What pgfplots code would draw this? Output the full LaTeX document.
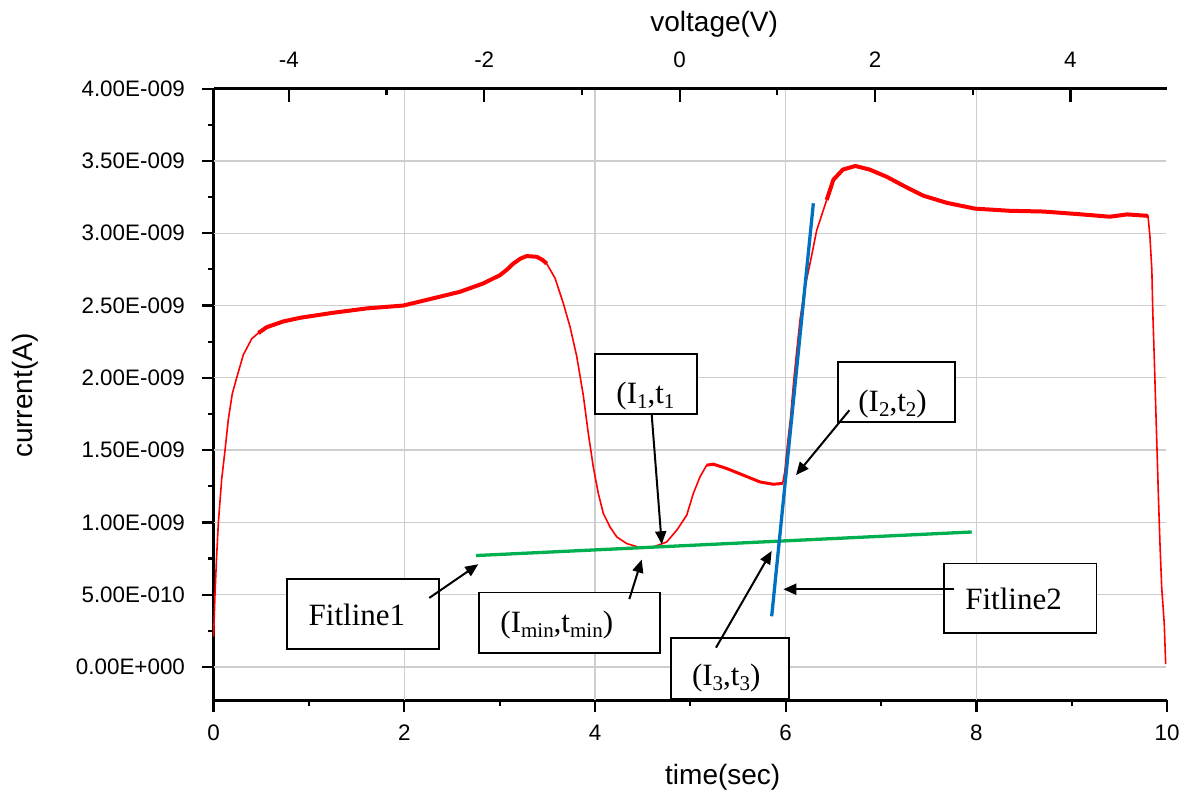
\documentclass[border=0pt]{standalone}
\usepackage{fontspec}
\setmainfont{Liberation Sans}
\newfontfamily\tnr{Liberation Serif}
\usepackage{pgfplots}
\pgfplotsset{compat=1.18}
\usepackage{pgfplotstable}
\usetikzlibrary{arrows.meta}

\definecolor{curvered}{RGB}{255,0,0}
\definecolor{fitgreen}{RGB}{0,176,80}
\definecolor{fitblue}{RGB}{0,112,192}
\definecolor{gridgray}{RGB}{206,206,206}

% current in units of 1e-9 A
\pgfplotstableread{
t I
0     0.21
0.015 0.51
0.03  0.74
0.05  1.00
0.085 1.30
0.12  1.50
0.154 1.71
0.196 1.89
0.242 2.00
0.312 2.16
0.40  2.27
0.47  2.31
0.557 2.35
0.731 2.39
0.906 2.415
1.255 2.45
1.606 2.48
1.99  2.50
2.304 2.55
2.584 2.595
2.829 2.653
3.004 2.71
3.08  2.75
3.143 2.79
3.22  2.825
3.284 2.842
3.389 2.837
3.45  2.815
3.493 2.79
3.58  2.69
3.668 2.515
3.738 2.353
3.808 2.15
3.877 1.88
3.93  1.615
3.982 1.384
4.035 1.20
4.087 1.062
4.157 0.969
4.228 0.90
4.332 0.854
4.472 0.826
4.611 0.83
4.752 0.865
4.857 0.946
4.962 1.05
5.031 1.20
5.101 1.315
5.171 1.396
5.241 1.403
5.381 1.373
5.555 1.327
5.73  1.28
5.87  1.264
5.968 1.27
5.99  1.35
6.02  1.55
6.05  1.72
6.08  1.95
6.11  2.15
6.15  2.40
6.20  2.62
6.255 2.79
6.325 3.02
6.43  3.23
6.50  3.37
6.60  3.44
6.73  3.465
6.88  3.44
7.06  3.39
7.23  3.33
7.44  3.26
7.69  3.21
7.985 3.17
8.35  3.155
8.70  3.15
9.05  3.133
9.40  3.114
9.58  3.13
9.80  3.12
9.82  2.976
9.84  2.745
9.85  2.45
9.865 2.145
9.91  1.154
9.925 0.856
9.943 0.554
9.97  0.30
9.985 0.02
}\currentdata

\newcommand\sub[1]{\raisebox{-0.35ex}{\fontsize{10.5}{10.5}\selectfont #1}}

\tikzset{
  annobox/.style={draw=black, line width=0.85pt, fill=white},
  annoarrow/.style={-{Triangle[length=6.5pt,width=5.5pt]}, line width=1pt, black},
  annotext/.style={font=\tnr\fontsize{15.5}{18}\selectfont, inner sep=0pt, anchor=base west},
  grd/.style={gridgray, line width=0.65pt},
}

\begin{document}
\begin{tikzpicture}
\begin{axis}[
  at={(0,0)}, anchor=south west,
  scale only axis, width=476.75pt, height=305.85pt,
  xmin=0, xmax=10, ymin=-0.23, ymax=4.0,
  axis x line=bottom, axis y line=left,
  x axis line style={-, line width=1.2pt},
  y axis line style={-, line width=1.2pt},
  xtick pos=left, ytick pos=left,
  clip=false,
  xtick={0,2,4,6,8,10}, xticklabels={0,2,4,6,8,10},
  ytick={0,0.5,1,1.5,2,2.5,3,3.5,4},
  yticklabels={0.00E+000,5.00E-010,1.00E-009,1.50E-009,2.00E-009,2.50E-009,3.00E-009,3.50E-009,4.00E-009},
  minor x tick num=1, minor y tick num=1,
  tick align=outside,
  major tick length=5.8pt, minor tick length=3pt,
  tick style={line width=1.1pt, black},
  ticklabel style={font=\fontsize{11.2}{13}\selectfont},
  yticklabel style={xshift=-5pt},
  xticklabel style={yshift=-3pt},
  xlabel={time(sec)}, ylabel={current(A)},
  label style={font=\fontsize{14}{16}\selectfont},
  xlabel style={at={(axis description cs:0.534,-0.126)}, anchor=center},
  ylabel style={at={(axis description cs:-0.197,0.498)}, anchor=center, rotate=0},
]
% grid lines
\pgfplotsinvokeforeach{2,4,6,8}{\draw[grd] (axis cs:#1,-0.23) -- (axis cs:#1,4);}
\pgfplotsinvokeforeach{0,0.5,1,1.5,2,2.5,3,3.5}{\draw[grd] (axis cs:0,#1) -- (axis cs:9.985,#1);}

\addplot[curvered, line width=0.8pt, line join=round] table[x=t, y=I] {\currentdata};
\addplot[curvered, line width=2pt, line join=round, restrict x to domain=0.45:3.55] table[x=t, y=I] {\currentdata};
\addplot[curvered, line width=1.5pt, line join=round, restrict x to domain=5.15:5.97] table[x=t, y=I] {\currentdata};
\addplot[curvered, line width=2pt, line join=round, restrict x to domain=6.4:9.81] table[x=t, y=I] {\currentdata};
% fit lines
\addplot[fitgreen, line width=1.65pt] coordinates {(2.752,0.771) (7.951,0.934)};
\addplot[fitblue, line width=1.65pt] coordinates {(5.853,0.351) (6.290,3.207)};

% annotation boxes
\draw[annobox] (axis cs:3.998,2.163) rectangle (axis cs:5.072,1.749);
\node[annotext] at (axis cs:4.221,1.823) {(I\sub{1},t\sub{1}};
\draw[annobox] (axis cs:6.548,2.109) rectangle (axis cs:7.776,1.694);
\node[annotext] at (axis cs:6.758,1.770) {(I\sub{2},t\sub{2})};
\draw[annobox] (axis cs:0.773,0.607) rectangle (axis cs:2.367,0.127);
\node[annotext] at (axis cs:0.993,0.284) {Fitline1};
\draw[annobox] (axis cs:2.783,0.515) rectangle (axis cs:4.685,0.097);
\node[annotext] at (axis cs:3.004,0.242) {(I\sub{min},t\sub{min})};
\draw[annobox] (axis cs:4.794,0.200) rectangle (axis cs:6.038,-0.219);
\node[annotext] at (axis cs:5.014,-0.127) {(I\sub{3},t\sub{3})};
\draw[annobox] (axis cs:7.663,0.716) rectangle (axis cs:9.261,0.235);
\node[annotext] at (axis cs:7.880,0.399) {Fitline2};

% arrows
\draw[annoarrow] (axis cs:4.595,1.742) -- (axis cs:4.700,0.849);
\draw[annoarrow] (axis cs:6.668,1.776) -- (axis cs:6.108,1.327);
\draw[annoarrow] (axis cs:2.262,0.478) -- (axis cs:2.776,0.711);
\draw[annoarrow] (axis cs:4.360,0.470) -- (axis cs:4.490,0.743);
\draw[annoarrow] (axis cs:5.269,0.134) -- (axis cs:5.853,0.803);
\draw[annoarrow] (axis cs:7.768,0.538) -- (axis cs:5.975,0.538);
\end{axis}

\begin{axis}[
  at={(0,0)}, anchor=south west,
  scale only axis, width=476.75pt, height=305.85pt,
  xmin=-4.77, xmax=4.99, ymin=0, ymax=1,
  axis x line=top, axis y line=none,
  x axis line style={-, line width=1.2pt},
  xtick pos=right,
  xtick={-4,-2,0,2,4}, xticklabels={-4,-2,0,2,4},
  minor x tick num=1,
  xtick align=inside,
  major tick length=6.5pt, minor tick length=3.3pt,
  tick style={line width=1.1pt, black},
  ticklabel style={font=\fontsize{11.2}{13}\selectfont},
  xticklabel style={yshift=7pt},
  xlabel={voltage(V)},
  label style={font=\fontsize{14}{16}\selectfont},
  xlabel style={at={(axis description cs:0.525,1.105)}, anchor=center},
]
\end{axis}

\pgfresetboundingbox
\path[use as bounding box] (-106.8pt,-47pt) rectangle (486.2pt,350.15pt);
\end{tikzpicture}
\end{document}
